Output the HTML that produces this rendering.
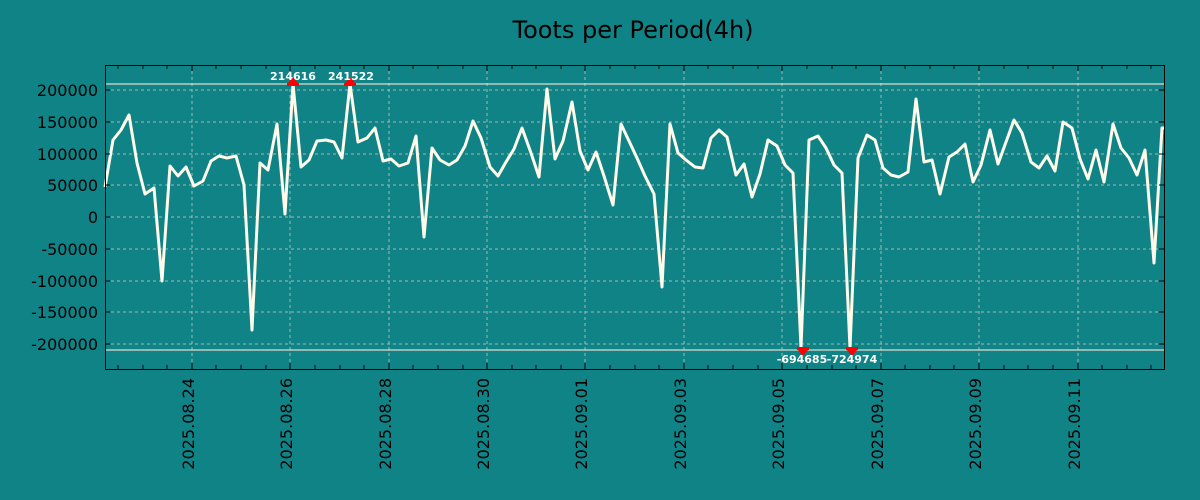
<!DOCTYPE html>
<html><head><meta charset="utf-8"><style>
html,body{margin:0;padding:0;background:#108386;}
svg{display:block;font-family:"DejaVu Sans","Liberation Sans",sans-serif;}
</style></head><body>
<svg width="1200" height="500" viewBox="0 0 1200 500">
<rect width="1200" height="500" fill="#108386"/>
<text x="633" y="38" font-size="24" text-anchor="middle" fill="#000">Toots per Period(4h)</text>
<g stroke="#c8c0b8" stroke-width="1" stroke-dasharray="3,3" opacity="0.85">
<line x1="105" x2="1164" y1="90" y2="90"/><line x1="105" x2="1164" y1="122" y2="122"/>
<line x1="105" x2="1164" y1="154" y2="154"/><line x1="105" x2="1164" y1="185" y2="185"/>
<line x1="105" x2="1164" y1="217" y2="217"/><line x1="105" x2="1164" y1="249" y2="249"/>
<line x1="105" x2="1164" y1="281" y2="281"/><line x1="105" x2="1164" y1="312" y2="312"/>
<line x1="105" x2="1164" y1="344" y2="344"/>
<line y1="65" y2="369" x1="192" x2="192"/><line y1="65" y2="369" x1="290" x2="290"/>
<line y1="65" y2="369" x1="389" x2="389"/><line y1="65" y2="369" x1="487" x2="487"/>
<line y1="65" y2="369" x1="585" x2="585"/><line y1="65" y2="369" x1="684" x2="684"/>
<line y1="65" y2="369" x1="782" x2="782"/><line y1="65" y2="369" x1="881" x2="881"/>
<line y1="65" y2="369" x1="979" x2="979"/><line y1="65" y2="369" x1="1078" x2="1078"/>
</g>
<g stroke="#e0dcd0" stroke-width="1.2"><line x1="105" x2="1164" y1="84" y2="84"/><line x1="105" x2="1164" y1="350" y2="350"/></g>
<polyline fill="none" stroke="#fffbea" stroke-width="3" stroke-linejoin="round" points="105,187 113,140 121,130 129,115 137,163 145,194 154,188 162,281 170,166 178,176 186,167 194,186 203,181 211,161 219,156 227,158 236,156 244,185 252,330 260,163 268,170 277,124 285,214 293,84 301,167 309,160 317,141 326,140 334,142 342,158 350,84 358,142 367,138 375,128 383,161 391,159 399,166 408,163 416,136 424,237 432,148 440,160 449,165 457,160 465,146 473,121 481,138 490,167 498,176 506,162 514,149 522,128 531,153 539,177 547,89 555,159 563,141 572,102 580,151 588,170 596,152 604,176 613,205 621,124 629,141 637,158 645,176 654,194 662,287 670,124 678,153 686,160 695,167 703,168 711,138 719,130 727,137 736,175 744,164 752,197 760,174 768,140 777,146 785,165 793,173 801,348 809,140 818,136 826,148 834,165 842,173 850,348 858,158 867,135 875,140 883,168 891,175 899,177 908,172 916,99 924,162 932,160 940,194 949,157 957,152 965,144 973,182 981,165 990,130 998,164 1006,142 1014,120 1022,133 1031,162 1039,168 1047,156 1055,171 1063,122 1072,128 1080,159 1088,179 1096,150 1104,182 1113,124 1121,148 1129,158 1137,175 1145,150 1154,263 1162,128 1164,128"/>
<g fill="#ff0000">
<polygon points="288,83 298,83 293,77"/><rect x="287" y="83" width="12" height="3"/>
<polygon points="345,83 355,83 350,77"/><rect x="344" y="83" width="12" height="3"/>
<rect x="797" y="347" width="12" height="3"/><polygon points="798,350 808,350 803,356"/>
<rect x="846" y="347" width="12" height="3"/><polygon points="847,350 857,350 852,356"/>
</g>
<g fill="#fff" font-size="11" font-weight="bold" text-anchor="middle">
<text x="293" y="80">214616</text><text x="351" y="80">241522</text>
<text x="802" y="363">-694685</text><text x="852" y="363">-724974</text>
</g>
<rect x="105.5" y="65.5" width="1059" height="304" fill="none" stroke="#000" stroke-width="1"/>
<g stroke="#000" stroke-width="1">
<path d="M118,65v4M143,65v4M167,65v4M192,65v6M216,65v4M241,65v4M266,65v4M290,65v6M315,65v4M340,65v4M364,65v4M389,65v6M413,65v4M438,65v4M463,65v4M487,65v6M512,65v4M536,65v4M561,65v4M585,65v6M610,65v4M635,65v4M659,65v4M684,65v6M708,65v4M733,65v4M758,65v4M782,65v6M807,65v4M832,65v4M856,65v4M881,65v6M905,65v4M930,65v4M954,65v4M979,65v6M1004,65v4M1028,65v4M1053,65v4M1078,65v6M1102,65v4M1127,65v4M1151,65v4"/>
<path d="M118,369v-4M143,369v-4M167,369v-4M192,369v-6M216,369v-4M241,369v-4M266,369v-4M290,369v-6M315,369v-4M340,369v-4M364,369v-4M389,369v-6M413,369v-4M438,369v-4M463,369v-4M487,369v-6M512,369v-4M536,369v-4M561,369v-4M585,369v-6M610,369v-4M635,369v-4M659,369v-4M684,369v-6M708,369v-4M733,369v-4M758,369v-4M782,369v-6M807,369v-4M832,369v-4M856,369v-4M881,369v-6M905,369v-4M930,369v-4M954,369v-4M979,369v-6M1004,369v-4M1028,369v-4M1053,369v-4M1078,369v-6M1102,369v-4M1127,369v-4M1151,369v-4"/>
<path d="M105,90h5M105,122h5M105,154h5M105,185h5M105,217h5M105,249h5M105,281h5M105,312h5M105,344h5M1164,90h-5M1164,122h-5M1164,154h-5M1164,185h-5M1164,217h-5M1164,249h-5M1164,281h-5M1164,312h-5M1164,344h-5"/>
</g>
<g fill="#000" font-size="16" text-anchor="end">
<text x="98" y="96">200000</text><text x="98" y="128">150000</text><text x="98" y="160">100000</text>
<text x="98" y="191">50000</text><text x="98" y="223">0</text><text x="98" y="255">-50000</text>
<text x="98" y="287">-100000</text><text x="98" y="318">-150000</text><text x="98" y="350">-200000</text>
</g>
<g fill="#000" font-size="16" text-anchor="end">
<text transform="translate(194,378) rotate(-90)">2025.08.24</text>
<text transform="translate(292,378) rotate(-90)">2025.08.26</text>
<text transform="translate(391,378) rotate(-90)">2025.08.28</text>
<text transform="translate(489,378) rotate(-90)">2025.08.30</text>
<text transform="translate(587,378) rotate(-90)">2025.09.01</text>
<text transform="translate(686,378) rotate(-90)">2025.09.03</text>
<text transform="translate(784,378) rotate(-90)">2025.09.05</text>
<text transform="translate(883,378) rotate(-90)">2025.09.07</text>
<text transform="translate(981,378) rotate(-90)">2025.09.09</text>
<text transform="translate(1080,378) rotate(-90)">2025.09.11</text>
</g>
</svg>
</body></html>
